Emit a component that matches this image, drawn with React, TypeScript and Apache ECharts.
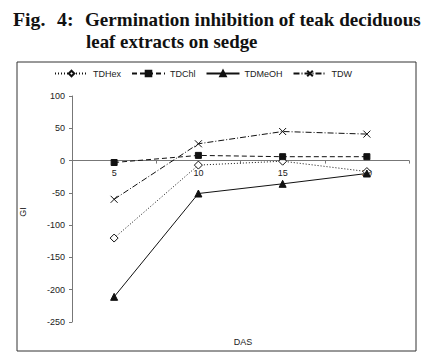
import React, { useEffect, useRef } from "react";
import * as echarts from "echarts";

const categories = ["5", "10", "15", "20"];
const tdHex = [-120, -7, -1, -17];
const tdChl = [-3, 8, 6, 6];
const tdMeOH = [-211, -51, -36, -20];
const tdW = [-60, 26, 45, 41];

const FONT = "'Liberation Sans', Arial, sans-serif";
const SERIF = "'Liberation Serif', 'Times New Roman', serif";

export default function App() {
  const ref = useRef<HTMLDivElement>(null);
  useEffect(() => {
    const chart = echarts.init(ref.current!, null, { renderer: "svg" });
    const mk = (
      name: string,
      data: number[],
      symbol: string,
      size: number,
      fill: string,
      lineType: any
    ) => ({
      name,
      type: "line",
      data,
      symbol,
      symbolSize: size,
      showAllSymbol: true,
      lineStyle: { color: "#111", width: 1, type: lineType },
      itemStyle: { color: fill, borderColor: "#111", borderWidth: 1 },
      z: 3,
    });
    const gridTop = 96;
    const gridH = 226;
    const zeroY = gridTop + gridH * (100 / 350);
    chart.setOption({
      animation: false,
      backgroundColor: "#fff",
      grid: { left: 72, top: gridTop, width: 337, height: gridH, containLabel: false },
      legend: {
        left: 49,
        top: 64,
        itemWidth: 33,
        itemHeight: 7,
        itemGap: 10,
        textStyle: { fontFamily: FONT, fontSize: 9, color: "#222" },
        data: ["TDHex", "TDChl", "TDMeOH", "TDW"],
      },
      xAxis: {
        type: "category",
        data: categories,
        boundaryGap: true,
        offset: -(gridTop + gridH - zeroY),
        axisLine: { onZero: false, lineStyle: { color: "#777", width: 1 } },
        axisTick: { show: true, length: 3, lineStyle: { color: "#777" } },
        axisLabel: { fontFamily: FONT, fontSize: 9, color: "#222", margin: 8 },
        splitLine: { show: false },
      },
      yAxis: {
        type: "value",
        min: -250,
        max: 100,
        interval: 50,
        axisLine: { show: true, onZero: false, lineStyle: { color: "#777", width: 1 } },
        axisTick: { show: true, length: 3, lineStyle: { color: "#777" } },
        axisLabel: { fontFamily: FONT, fontSize: 9, color: "#222", margin: 7 },
        splitLine: { show: false },
      },
      graphic: [
        {
          type: "rect",
          shape: { x: 17, y: 62, width: 399, height: 289 },
          style: { fill: "none", stroke: "#333", lineWidth: 1 },
          silent: true,
        },
        {
          type: "text",
          x: 13,
          y: 11,
          scaleX: 1.1,
          style: { text: "Fig.", font: `bold 18px ${SERIF}`, fill: "#111" },
        },
        {
          type: "text",
          x: 57,
          y: 11,
          scaleX: 1.1,
          style: { text: "4:", font: `bold 18px ${SERIF}`, fill: "#111" },
        },
        {
          type: "text",
          x: 85,
          y: 11,
          scaleX: 1.06,
          style: {
            text: "Germination inhibition of teak deciduous",
            font: `bold 18px ${SERIF}`,
            fill: "#111",
          },
        },
        {
          type: "text",
          x: 86,
          y: 33,
          scaleX: 1.05,
          style: { text: "leaf extracts on sedge", font: `bold 18px ${SERIF}`, fill: "#111" },
        },
        {
          type: "text",
          x: 23,
          y: 212,
          rotation: Math.PI / 2,
          style: {
            text: "GI",
            font: `9px ${FONT}`,
            fill: "#222",
            align: "center",
            verticalAlign: "middle",
          },
        },
        {
          type: "text",
          x: 243,
          y: 342,
          style: {
            text: "DAS",
            font: `9px ${FONT}`,
            fill: "#222",
            align: "center",
            verticalAlign: "middle",
          },
        },
      ],
      series: [
        mk("TDHex", tdHex, "diamond", 8, "#fff", [1, 2]),
        mk("TDChl", tdChl, "rect", 6, "#111", [5, 3]),
        mk("TDMeOH", tdMeOH, "triangle", 7, "#111", "solid"),
        mk("TDW", tdW, "path://M0,0L10,10M10,0L0,10", 7, "#111", [6, 2, 1, 2]),
      ],
    });
    return () => chart.dispose();
  }, []);
  return (
    <div
      ref={ref}
      style={{ position: "fixed", left: 0, top: 0, width: 444, height: 364, background: "#fff" }}
    />
  );
}
